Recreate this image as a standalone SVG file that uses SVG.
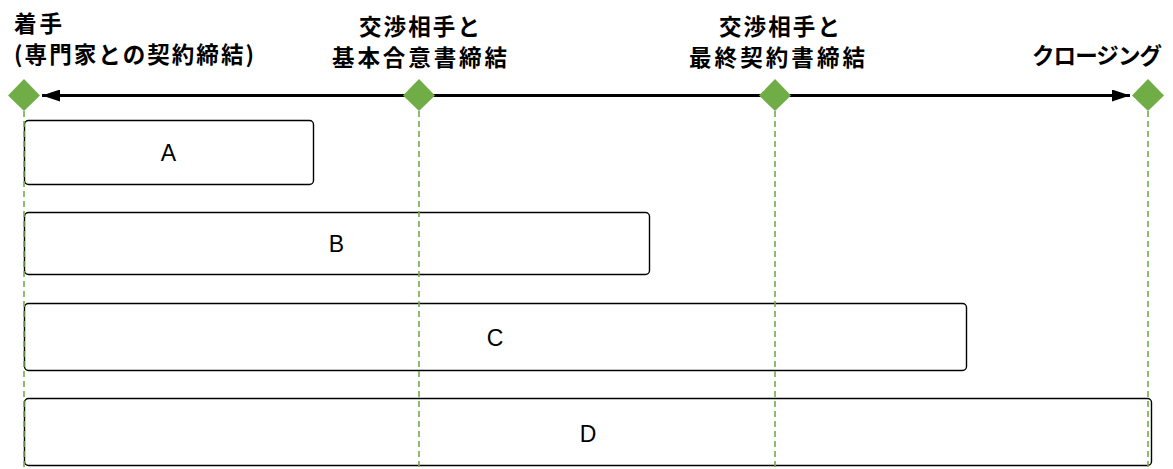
<svg xmlns="http://www.w3.org/2000/svg" width="1173" height="469" viewBox="0 0 1173 469">
<style>
.lbl{font-family:"Noto Sans CJK JP","Liberation Sans",sans-serif;font-weight:bold;font-size:22.5px;fill:#000}
.box{fill:#fff;stroke:#000;stroke-width:1.4}
.btxt{font-family:"Liberation Sans",Arial,sans-serif;font-size:23px;fill:#000;text-anchor:middle}
.guide{stroke:#70ad47;stroke-width:1.6;stroke-dasharray:6 4;fill:none}
.ms{fill:#70ad47}
</style>
<defs>
<marker id="ah" viewBox="0 0 18 12" refX="18" refY="6" markerWidth="18" markerHeight="12" markerUnits="userSpaceOnUse" orient="auto-start-reverse">
<path d="M0,0 L18,6 L0,12 Z" fill="#000"/>
</marker>
</defs>
<g id="box-A"><rect class="box" x="24.5" y="120.5" width="289" height="64" rx="4"/><text class="btxt" x="168.5" y="161">A</text></g>
<g id="box-B"><rect class="box" x="24.5" y="212.5" width="625" height="62" rx="4"/><text class="btxt" x="336.5" y="252">B</text></g>
<g id="box-C"><rect class="box" x="24.5" y="303.5" width="942" height="67" rx="4"/><text class="btxt" x="495" y="346">C</text></g>
<g id="box-D"><rect class="box" x="24.5" y="398.5" width="1127" height="67" rx="4"/><text class="btxt" x="588" y="442">D</text></g>
<g id="connectors">
<line class="guide" x1="24" y1="111" x2="24" y2="469"/>
<line class="guide" x1="419" y1="111" x2="419" y2="469"/>
<line class="guide" x1="775" y1="111" x2="775" y2="469"/>
<line class="guide" x1="1148" y1="111" x2="1148" y2="469"/>
<line x1="42" y1="95.5" x2="1130" y2="95.5" stroke="#000" stroke-width="3" marker-start="url(#ah)" marker-end="url(#ah)"/>
</g>
<g id="m-start"><polygon class="ms" points="24,79 40,95.5 24,111 8,95.5"/><text class="lbl" x="14" y="32" textLength="48">着手</text><text class="lbl" x="14" y="63" textLength="240">(専門家との契約締結)</text></g>
<g id="m-basic"><polygon class="ms" points="419,79 435,95.5 419,111 403,95.5"/><text class="lbl" x="359" y="35" textLength="121">交渉相手と</text><text class="lbl" x="332" y="66" textLength="175">基本合意書締結</text></g>
<g id="m-final"><polygon class="ms" points="775,79 791,95.5 775,111 759,95.5"/><text class="lbl" x="719" y="35" textLength="121">交渉相手と</text><text class="lbl" x="689" y="66" textLength="176">最終契約書締結</text></g>
<g id="m-close"><polygon class="ms" points="1148,79 1164,95.5 1148,111 1132,95.5"/><text class="lbl" x="1032" y="64" textLength="130">クロージング</text></g>
</svg>
